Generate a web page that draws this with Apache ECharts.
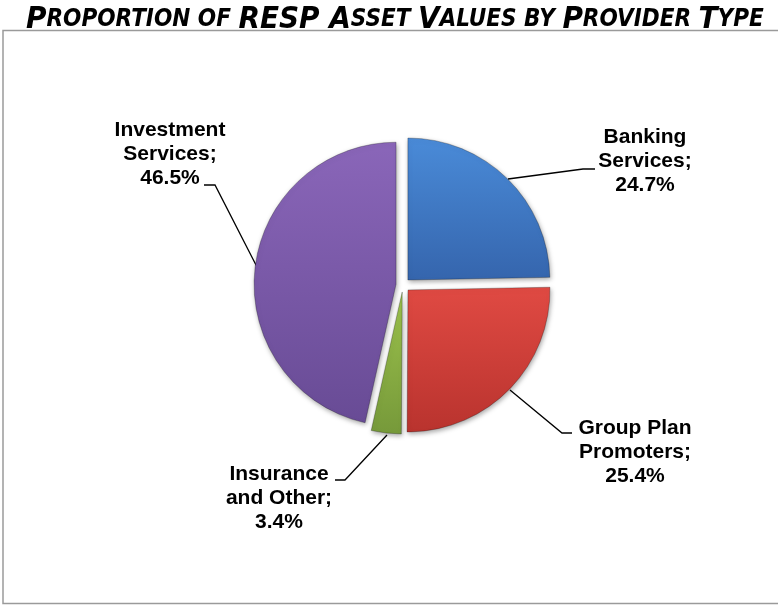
<!DOCTYPE html>
<html>
<head>
<meta charset="utf-8">
<script src="https://cdn.jsdelivr.net/npm/echarts@6/dist/echarts.min.js"></script>
<style>
  html, body { margin: 0; padding: 0; background: #fff; }
  #chart { width: 778px; height: 606px; }
</style>
</head>
<body>
<div id="chart"></div>
<script>
// provider types, clockwise from 12 o'clock
const categories = ['Banking Services', 'Group Plan Promoters', 'Insurance and Other', 'Investment Services']
const labelNames = ['Banking\nServices', 'Group Plan\nPromoters', 'Insurance\nand Other', 'Investment\nServices']
const shares = [24.7, 25.4, 3.4, 46.5]

// top / bottom colours of each slice
const topColors = ['#4a8bd8', '#e04a43', '#9cc24c', '#8a66b9']
const bottomColors = ['#3565ad', '#b9332e', '#76993a', '#684b95']

// label anchors (centre of text block) and leader line points
const labelPos = [[645, 161], [635, 452], [279, 498], [170, 154]]
const leaderPoints = [
  [[508, 179], [583, 169], [595, 169]],
  [[510, 390], [562, 433], [572, 433]],
  [[387, 435], [345, 480], [335, 480]],
  [[257, 267], [215, 185], [204, 185]]
]

const chart = echarts.init(document.getElementById('chart'))

const pieCenter = [403, 285]
const pieRadius = 142
const fontStack = '"Liberation Sans Narrow", "DejaVu Sans Condensed", sans-serif'

const sliceData = categories.map((name, i) => ({
  name: name,
  value: shares[i],
  selected: true,
  itemStyle: {
    color: new echarts.graphic.LinearGradient(0, 0, 0, 1, [
      { offset: 0, color: topColors[i] },
      { offset: 1, color: bottomColors[i] }
    ])
  }
}))

const labelData = categories.map((name, i) => ({ name: name, value: shares[i] }))

const option = {
  animation: false,
  title: {
    text: '{b|P}{s|ROPORTION OF }{b|RESP A}{s|SSET }{b|V}{s|ALUES BY }{b|P}{s|ROVIDER }{b|T}{s|YPE}',
    left: 21,
    top: -1,
    textStyle: {
      rich: {
        b: { fontFamily: fontStack, fontStyle: 'italic', fontWeight: 'bold', fontSize: 31, color: '#000' },
        s: { fontFamily: fontStack, fontStyle: 'italic', fontWeight: 'bold', fontSize: 24, color: '#000' }
      }
    }
  },
  graphic: [
    {
      type: 'rect',
      shape: { x: 3, y: 30.5, width: 790, height: 573 },
      style: { fill: 'none', stroke: '#9a9a9a', lineWidth: 1.5 },
      z: -1
    }
  ],
  series: [
    {
      // the exploded slices
      type: 'pie',
      center: pieCenter,
      radius: pieRadius,
      startAngle: 90,
      clockwise: true,
      selectedMode: 'multiple',
      selectedOffset: 7,
      data: sliceData,
      itemStyle: {
        borderColor: 'rgba(0,0,0,0.25)',
        borderWidth: 1,
        shadowBlur: 5,
        shadowColor: 'rgba(0,0,0,0.35)',
        shadowOffsetX: 1,
        shadowOffsetY: 2
      },
      emphasis: { disabled: true },
      label: { show: false },
      labelLine: { show: false }
    },
    {
      // invisible copy, only carries the labels and leader lines
      type: 'pie',
      center: pieCenter,
      radius: pieRadius,
      startAngle: 90,
      clockwise: true,
      silent: true,
      data: labelData,
      itemStyle: { color: 'rgba(0,0,0,0)' },
      emphasis: { disabled: true },
      label: {
        show: true,
        position: 'outside',
        formatter: p => labelNames[p.dataIndex] + ';\n' + p.value.toFixed(1) + '%',
        fontFamily: 'Arial, "Liberation Sans", sans-serif',
        fontWeight: 'bold',
        fontSize: 21,
        lineHeight: 24,
        color: '#000',
        align: 'center'
      },
      labelLine: {
        show: true,
        lineStyle: { color: '#000', width: 1.3 }
      },
      labelLayout: function (params) {
        const i = params.dataIndex
        return {
          x: labelPos[i][0],
          y: labelPos[i][1],
          align: 'center',
          verticalAlign: 'middle',
          labelLinePoints: leaderPoints[i]
        }
      }
    }
  ]
}

chart.setOption(option)
</script>
</body>
</html>
